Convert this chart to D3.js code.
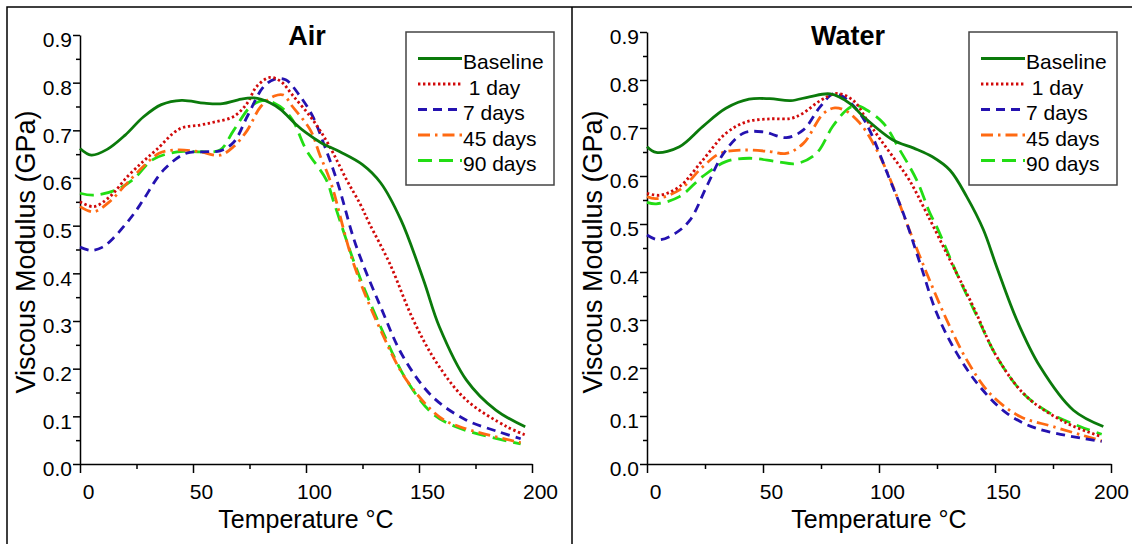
<!DOCTYPE html>
<html>
<head>
<meta charset="utf-8">
<script src="https://cdnjs.cloudflare.com/ajax/libs/d3/7.8.5/d3.min.js"></script>
<style>
  body { margin: 0; background: #fff; }
  svg { display: block; font-family: "Liberation Sans", Arial, sans-serif; }
  .tick text { font-size: 21px; fill: #000; }
  .domain, .tick line { stroke: #000; stroke-width: 1.5; }
</style>
</head>
<body>
<div id="chart"></div>
<script>
// series names and legend labels
var seriesNames = ["Baseline", "1 day", "7 days", "45 days", "90 days"];
var legendLabels = ["Baseline", " 1 day", "7 days", "45 days", "90 days"];
var xTicks = [0, 50, 100, 150, 200];
var yTicks = [0.0, 0.1, 0.2, 0.3, 0.4, 0.5, 0.6, 0.7, 0.8, 0.9];

// Air ageing, [temperature °C, viscous modulus GPa]
var airBaseline = [[0,0.662],[5,0.648],[12,0.66],[20,0.69],[28,0.728],[36,0.754],[45,0.763],[55,0.757],[63,0.756],[70,0.764],[77,0.768],[84,0.758],[89,0.743],[95,0.715],[100,0.695],[107,0.673],[115,0.655],[125,0.628],[133,0.59],[142,0.512],[152,0.386],[159,0.288],[171,0.176],[184,0.113],[197,0.078]];
var air1day = [[0,0.55],[6,0.54],[13,0.56],[21,0.603],[28,0.635],[34,0.66],[44,0.703],[53,0.711],[60,0.718],[68,0.729],[74,0.757],[78,0.791],[84,0.811],[89,0.802],[94,0.774],[103,0.722],[110,0.67],[118,0.596],[124,0.545],[128,0.505],[137,0.421],[147.5,0.302],[158,0.211],[171,0.134],[189,0.078],[197,0.061]];
var air7days = [[0,0.455],[5,0.448],[10,0.455],[15,0.475],[20,0.502],[24,0.526],[28,0.554],[37,0.617],[47,0.652],[55,0.655],[62,0.657],[68,0.675],[74,0.729],[81,0.79],[86,0.807],[91,0.806],[97,0.774],[103,0.729],[108,0.67],[114,0.59],[122,0.46],[133,0.33],[143,0.225],[156,0.141],[171,0.092],[185,0.068],[195,0.053]];
var air45days = [[0,0.54],[6,0.529],[13,0.55],[20,0.585],[28,0.624],[35,0.652],[43,0.659],[53,0.655],[62,0.648],[68,0.666],[74,0.70],[80,0.75],[86,0.772],[90,0.774],[94,0.75],[102,0.70],[106,0.65],[111,0.59],[121,0.421],[133,0.281],[144.5,0.176],[159,0.099],[170,0.075],[195,0.045]];
var air90days = [[0,0.568],[6,0.564],[16,0.575],[24,0.599],[32,0.638],[43,0.655],[53,0.655],[62,0.659],[68,0.70],[76,0.752],[82,0.763],[88.5,0.75],[94,0.722],[100,0.66],[109,0.596],[112,0.554],[122,0.414],[133,0.288],[144.5,0.176],[156,0.106],[168,0.075],[195,0.042]];

// Water ageing
var waterBaseline = [[0,0.661],[4,0.649],[14,0.661],[24,0.703],[34,0.741],[44,0.76],[53,0.761],[62,0.757],[70,0.765],[79,0.771],[87.5,0.751],[93,0.725],[106,0.675],[115,0.658],[123,0.64],[130.6,0.612],[137.8,0.557],[145,0.488],[150.7,0.411],[159.4,0.30],[169.4,0.203],[183.8,0.112],[196.7,0.078]];
var water1day = [[0,0.564],[5.6,0.56],[14,0.578],[24,0.633],[34,0.689],[43,0.713],[53,0.719],[62,0.72],[67,0.73],[75,0.758],[82,0.772],[89,0.757],[95,0.715],[100,0.68],[106,0.64],[113,0.592],[120.6,0.522],[130.6,0.425],[140.6,0.328],[150.7,0.224],[163.7,0.14],[181,0.085],[196,0.057]];
var water7days = [[0,0.477],[5,0.467],[12,0.48],[18.5,0.508],[25.7,0.578],[33,0.647],[41.5,0.689],[50,0.692],[60,0.68],[67.4,0.696],[74.6,0.744],[80.3,0.771],[84.6,0.765],[91.8,0.73],[96,0.695],[104.7,0.592],[110.5,0.522],[117.7,0.418],[124.9,0.314],[133.5,0.231],[143.5,0.161],[155,0.106],[168,0.074],[196,0.047]];
var water45days = [[0,0.557],[4,0.553],[14,0.571],[24,0.619],[31.5,0.647],[41.5,0.654],[53,0.651],[60,0.647],[67.4,0.668],[76,0.73],[81,0.742],[86,0.735],[90.4,0.717],[94,0.696],[100,0.645],[105.5,0.585],[112,0.501],[120.6,0.397],[129.2,0.30],[137.8,0.217],[147.8,0.147],[160.8,0.099],[175,0.078],[196,0.048]];
var water90days = [[0,0.545],[4,0.542],[14,0.557],[24,0.599],[34,0.63],[44,0.637],[56,0.63],[64.5,0.626],[73,0.647],[80,0.703],[86,0.7375],[90,0.747],[94.7,0.7375],[101.9,0.71],[109,0.654],[116.2,0.592],[122,0.522],[124.9,0.494],[133.5,0.397],[142,0.31],[150.7,0.224],[162.2,0.147],[173.7,0.106],[186.6,0.078],[196,0.062]];

var STYLES = [
  { color: "#0b7a0b", dash: null,          width: 2.8 },
  { color: "#d10a0a", dash: "2.4,2.6",     width: 2.8 },
  { color: "#2412b0", dash: "9,6",         width: 2.8 },
  { color: "#ff6a12", dash: "12,5,2.5,5",  width: 2.8 },
  { color: "#22dd14", dash: "14,7",        width: 2.8 }
];

var WIDTH = 1132, HEIGHT = 544;

var svg = d3.select("#chart").append("svg")
  .attr("width", WIDTH)
  .attr("height", HEIGHT);

// panel frames
svg.append("path")
  .attr("d", "M7,544 V7 H1132 M572,7 V544")
  .attr("fill", "none")
  .attr("stroke", "#000")
  .attr("stroke-width", 1.5);

function drawPanel(p) {
  var x = d3.scaleLinear().domain([0, 200]).range([p.x0, p.x1]),
      y = d3.scaleLinear().domain([0, 0.9]).range([p.y0, p.y1]);

  var g = svg.append("g");

  // minor ticks
  g.append("g")
    .attr("transform", "translate(0," + p.y0 + ")")
    .call(d3.axisBottom(x).tickValues([25, 75, 125, 175]).tickSize(5).tickFormat(""))
    .select(".domain").remove();
  g.append("g")
    .attr("transform", "translate(" + p.x0 + ",0)")
    .call(d3.axisLeft(y).tickValues(d3.range(0.05, 0.9, 0.1)).tickSize(4).tickFormat(""))
    .select(".domain").remove();

  var xa = g.append("g")
    .attr("transform", "translate(0," + p.y0 + ")")
    .call(d3.axisBottom(x).tickValues(xTicks).tickSize(9).tickSizeOuter(0).tickPadding(11).tickFormat(d3.format("d")));
  xa.selectAll(".tick text").attr("transform", function(d) {
    // keep the last label inside the window
    var shift = Math.min(8, 1130 - 19 - x(d));
    return "translate(" + shift + ",0)";
  });

  var ya = g.append("g")
    .attr("transform", "translate(" + p.x0 + ",0)")
    .call(d3.axisLeft(y).tickValues(yTicks).tickSize(7).tickSizeOuter(0).tickPadding(1).tickFormat(d3.format(".1f")));
  ya.selectAll(".tick text").attr("transform", "translate(0,5)");

  // axis titles
  g.append("text")
    .attr("x", (p.x0 + p.x1) / 2)
    .attr("y", 528)
    .attr("text-anchor", "middle")
    .style("font-size", "25px")
    .text("Temperature °C");

  g.append("text")
    .attr("transform", "translate(" + (p.x0 - 45) + ",252) rotate(-90)")
    .attr("text-anchor", "middle")
    .style("font-size", "27px")
    .text("Viscous Modulus (GPa)");

  g.append("text")
    .attr("x", p.titleX)
    .attr("y", 45)
    .attr("text-anchor", "middle")
    .style("font-size", "27px")
    .style("font-weight", "bold")
    .text(p.title);

  var line = d3.line()
    .x(function(d) { return x(d[0]); })
    .y(function(d) { return y(d[1]); })
    .curve(d3.curveCatmullRom.alpha(0.5));

  // draw in reverse so baseline sits on top like the original
  p.series.slice().reverse().forEach(function(s, i) {
    var st = STYLES[p.series.length - 1 - i];
    g.append("path")
      .datum(s)
      .attr("d", line)
      .attr("fill", "none")
      .attr("stroke", st.color)
      .attr("stroke-width", st.width)
      .attr("stroke-dasharray", st.dash);
  });

  // legend
  var lg = g.append("g").attr("transform", "translate(" + p.legendX + ",32)");
  lg.append("rect")
    .attr("width", 148).attr("height", 153)
    .attr("fill", "#fff")
    .attr("stroke", "#444")
    .attr("stroke-width", 1.5);

  legendLabels.forEach(function(label, i) {
    var st = STYLES[i], ry = 26.5 + i * 25.5;
    lg.append("line")
      .attr("x1", 12).attr("x2", 56)
      .attr("y1", ry).attr("y2", ry)
      .attr("stroke", st.color)
      .attr("stroke-width", st.width)
      .attr("stroke-dasharray", st.dash);
    lg.append("text")
      .attr("x", 57)
      .attr("y", ry + 10.5)
      .style("font-size", "21px")
      .style("white-space", "pre")
      .text(label);
  });
}

drawPanel({
  title: "Air", titleX: 307, legendX: 406,
  x0: 80, x1: 532, y0: 464, y1: 35,
  series: [airBaseline, air1day, air7days, air45days, air90days]
});

drawPanel({
  title: "Water", titleX: 848, legendX: 969,
  x0: 647, x1: 1111, y0: 464, y1: 32,
  series: [waterBaseline, water1day, water7days, water45days, water90days]
});
</script>
</body>
</html>
